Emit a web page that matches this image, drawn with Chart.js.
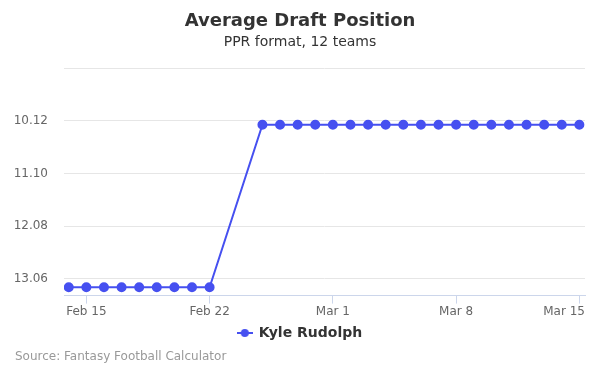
<!DOCTYPE html>
<html>
<head>
<meta charset="utf-8">
<script src="https://cdn.jsdelivr.net/npm/chart.js@4"></script>
<style>
  body { margin: 0; background: #fff; }
  #wrap { position: relative; width: 600px; height: 375px; }
  #source {
    position: absolute; left: 15px; top: 349px;
    font: 12px 'DejaVu Sans', sans-serif; color: #999;
  }
</style>
</head>
<body>
<div id="wrap">
  <canvas id="graph" width="600" height="375"></canvas>
  <div id="source">Source: Fantasy Football Calculator</div>
</div>
<script>
const ctx = document.getElementById('graph').getContext('2d')

// one entry per day, Feb 14 .. Mar 15
const days = [
  'Feb 14', 'Feb 15', 'Feb 16', 'Feb 17', 'Feb 18', 'Feb 19', 'Feb 20', 'Feb 21', 'Feb 22',
  'Feb 23', 'Feb 24', 'Feb 25', 'Feb 26', 'Feb 27', 'Feb 28',
  'Mar 1', 'Mar 2', 'Mar 3', 'Mar 4', 'Mar 5', 'Mar 6', 'Mar 7', 'Mar 8',
  'Mar 9', 'Mar 10', 'Mar 11', 'Mar 12', 'Mar 13', 'Mar 14', 'Mar 15',
]
// ADP (round.pick), null = no data that day
const adp = [
  13.22, 13.22, 13.22, 13.22, 13.22, 13.22, 13.22, 13.22, 13.22,
  null, null, 10.19, 10.19, 10.19, 10.19,
  10.19, 10.19, 10.19, 10.19, 10.19, 10.19, 10.19, 10.19,
  10.19, 10.19, 10.19, 10.19, 10.19, 10.19, 10.19,
]
const xTickLabels = ['Feb 15', 'Feb 22', 'Mar 1', 'Mar 8', 'Mar 15']
const yTicks = [9.14, 10.12, 11.10, 12.08, 13.06]

const COLOUR = '#4650f0'

// legend symbol: short line with a dot
const legendIcon = document.createElement('canvas')
legendIcon.width = 16
legendIcon.height = 10
const ic = legendIcon.getContext('2d')
ic.strokeStyle = COLOUR
ic.lineWidth = 2
ic.beginPath()
ic.moveTo(0, 5)
ic.lineTo(16, 5)
ic.stroke()
ic.fillStyle = COLOUR
ic.beginPath()
ic.arc(8, 5, 4, 0, Math.PI * 2)
ic.fill()

const points = []
adp.forEach((v, i) => {
  if (v !== null) points.push({ x: i, y: v })
})

Chart.defaults.font.family = "'DejaVu Sans', sans-serif"

let graph = new Chart(ctx, {
  type: 'line',
  data: {
    datasets: [
      {
        label: 'Kyle Rudolph',
        data: points,
        borderColor: COLOUR,
        backgroundColor: COLOUR,
        borderWidth: 2,
        pointRadius: 4,
        pointHoverRadius: 5,
        pointStyle: 'circle',
        tension: 0,
      },
    ],
  },
  options: {
    responsive: false,
    animation: false,
    layout: { padding: { left: 15, right: 15, top: 11, bottom: 25 } },
    plugins: {
      title: {
        display: true,
        text: 'Average Draft Position',
        color: '#333',
        font: { size: 18, weight: 'bold' },
        padding: { top: 0, bottom: 1 },
      },
      subtitle: {
        display: true,
        text: 'PPR format, 12 teams',
        color: '#333',
        font: { size: 14, weight: 'normal' },
        padding: { top: 0, bottom: 18 },
      },
      legend: {
        position: 'bottom',
        labels: {
          usePointStyle: true,
          pointStyle: legendIcon,
          color: '#333',
          font: { size: 14, weight: 'bold' },
          padding: 6,
        },
      },
      tooltip: { enabled: false },
    },
    scales: {
      x: {
        type: 'linear',
        min: -0.27,
        max: 29.32,
        afterBuildTicks: (axis) => {
          axis.ticks = xTickLabels.map((l) => ({ value: days.indexOf(l) }))
        },
        afterFit: (axis) => {
          axis.paddingLeft = 0
          axis.paddingRight = 0
        },
        ticks: {
          color: '#666',
          font: { size: 12 },
          padding: 1,
          maxRotation: 0,
          // last label is pulled inside the plot, like the original
          callback: (v) => (v === days.length - 1 ? days[v] + '        ' : days[v]),
        },
        grid: {
          drawOnChartArea: false,
          drawTicks: true,
          tickLength: 8,
          color: '#ccd6eb',
        },
        border: { color: '#ccd6eb' },
      },
      y: {
        reverse: true,
        min: 9.14,
        max: 13.374,
        afterBuildTicks: (axis) => {
          axis.ticks = yTicks.map((v) => ({ value: v }))
        },
        afterFit: (axis) => {
          axis.width = 49
        },
        ticks: {
          color: '#666',
          font: { size: 12 },
          padding: 16,
          callback: (v) => (v === yTicks[0] ? '' : v.toFixed(2)),
        },
        grid: { color: '#e6e6e6', drawTicks: false },
        border: { display: false },
      },
    },
  },
})
</script>
</body>
</html>
